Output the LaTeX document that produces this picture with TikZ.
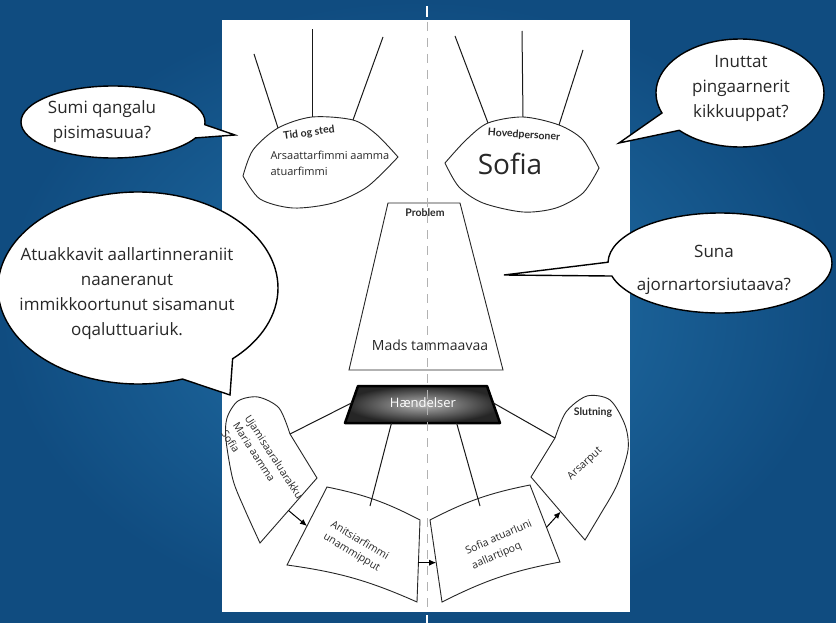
\documentclass[tikz,border=0pt]{standalone}
\usepackage{fontspec}
\setmainfont{Open Sans}
\newfontfamily\tagfont{Lato}
\usepackage{tikz}
\usetikzlibrary{calc,shapes.callouts,arrows.meta}
\definecolor{boarddark}{RGB}{16,76,128}
\definecolor{boardlight}{RGB}{36,116,172}
\definecolor{ink}{RGB}{40,40,40}
\newcommand{\bnd}{8}

\tikzset{
  bubble/.style={ellipse callout, draw=black, line width=1.4pt, fill=white, inner sep=0pt},
  bubtext/.style={align=center, text=ink, font=\fontsize{17}{25}\selectfont},
  shp/.style={draw=black!85, line width=0.9pt, fill=white},
  link/.style={draw=black!90, line width=1pt},
  nextarrow/.style={-{Latex[length=7pt,width=6pt]}, line width=1pt},
  boxtext/.style={text=ink, font=\fontsize{10.5}{14}\selectfont},
  tag/.style={text=ink, font=\tagfont\bfseries\fontsize{10.5}{12}\selectfont}
}

\begin{document}
\begin{tikzpicture}[x=1pt,y=-1pt]
\useasboundingbox (0,0) rectangle (836,623);
\shade[inner color=boardlight, outer color=boarddark] (0,0) rectangle (836,623);
\fill[white] (222,20) rectangle (630,612);
\draw[white, line width=1.6pt] (427,6) -- (427,17) (427,615) -- (427,623);

\draw[shp] plot[smooth] coordinates {(243,176) (253,150) (278,128) (312,117) (353,120) (376,134) (398,157)}
  -- plot[smooth] coordinates {(398,157) (367,187) (333,203) (293,208) (260,199) (243,176)} -- cycle;
\foreach \x/\y/\u/\v in {278/128/254/54, 312/117/312/29, 353/120/383/37}
  \draw[link] (\x,\y) -- (\u,\v);
\node[tag, rotate=8] (tid) at (309,133) {Tid og sted};
\node[boxtext, anchor=west, align=left, font=\fontsize{11}{16}\selectfont] (tidtxt) at (267,163) {Arsaattarfimmi aamma\\atuarfimmi};

\draw[shp] plot[smooth] coordinates {(445,163) (466,140) (488,123) (523,117) (559,125) (583,140) (599,168)}
  -- plot[smooth] coordinates {(599,168) (583,193) (556,208) (523,212) (483,203) (459,187) (445,163)} -- cycle;
\foreach \x/\y/\u/\v in {488/123/455/36, 523/117/522/31, 559/125/583/50}
  \draw[link] (\x,\y) -- (\u,\v);
\node[tag, rotate=-4] (hoved) at (524,135) {Hovedpersoner};
\node[text=ink, font=\fontsize{28}{30}\selectfont] (sofia) at (510,164) {Sofia};

\coordinate (p-nw) at (388,203);
\coordinate (p-ne) at (460,203);
\coordinate (p-se) at (503,370);
\coordinate (p-sw) at (349,370);
\draw[shp, fill=none] (p-nw) -- (p-ne) -- (p-se) -- (p-sw) -- cycle;
\node[tag] (prob) at (425,213) {Problem};
\node[text=ink, font=\fontsize{14}{16}\selectfont] (mads) at (430,345) {Mads tammaavaa};

\coordinate (h-nw) at (358,386);
\coordinate (h-ne) at (487,386);
\coordinate (h-se) at (500,423);
\coordinate (h-sw) at (345,423);
\shadedraw[inner color=black!30, outer color=black!85, draw=black, line width=2.5pt, line join=round] (h-nw) -- (h-ne) -- (h-se) -- (h-sw) -- cycle;
\node[text=white, font=\fontsize{13}{15}\selectfont] (hand) at (423,403) {Hændelser};

\coordinate (u-se) at (317,478);
\coordinate (u-s) at (260,543);
\coordinate (u-n) at (290,434);
\draw[shp] (u-s) -- (u-se) -- plot[smooth] coordinates {(u-n) (279,408) (258,397) (238,401) (227,418) (226,440) (233,480) (245,510) (u-s)} -- cycle;
\node[boxtext, rotate=-57, anchor=north west, align=left] (uja) at (252,409) {Ujamisaaraluarakku\\Maria aamma\\Sofia};

\coordinate (a-tl) at (327,487);
\coordinate (a-tr) at (420,520);
\coordinate (a-br) at (417,602);
\coordinate (a-bl) at (287,565);
\coordinate (a-n) at (370,506);
\draw[shp] (a-tl) to[bend left=\bnd] (a-tr) -- (a-br) to[bend right=\bnd] (a-bl) -- cycle;
\node[boxtext, rotate=-31, align=left] (anit) at (356,547) {Anitsiarfimmi\\unammipput};

\coordinate (f-tl) at (430,520);
\coordinate (f-tr) at (530,485);
\coordinate (f-br) at (560,562);
\coordinate (f-bl) at (442,602);
\coordinate (f-n) at (480,506);
\draw[shp] (f-tl) to[bend left=\bnd] (f-tr) -- (f-br) to[bend right=\bnd] (f-bl) -- cycle;
\node[boxtext, rotate=23.5, align=left, font=\fontsize{10.5}{16}\selectfont] (fase) at (502,545) {Sofia atuarluni\\aallartipoq};

\coordinate (s-w) at (531,477);
\coordinate (s-nw) at (555,438);
\coordinate (s-s) at (585,540);
\draw[shp] (s-s) -- (s-w) -- plot[smooth] coordinates {(s-nw) (566,412) (587,396) (610,400) (625,425) (628,450) (617,485) (600,515) (s-s)} -- cycle;
\node[tag] (slut) at (593,413) {Slutning};
\node[boxtext, rotate=43] (arsar) at (585,464) {Arsarput};

\coordinate (h-w) at ($(h-nw)!0.45!(h-sw)$);
\coordinate (h-e) at ($(h-ne)!0.45!(h-se)$);
\coordinate (h-s1) at ($(h-sw)!0.3!(h-se)$);
\coordinate (h-s2) at ($(h-sw)!0.72!(h-se)$);
\draw[link] (h-w) -- (u-n);
\draw[link] (h-s1) -- (a-n);
\draw[link] (h-s2) -- (f-n);
\draw[link] (h-e) -- (s-nw);

\coordinate (u-out) at ($(u-se)!0.5!(u-s)$);
\coordinate (a-in) at ($(a-bl)!0.5!(a-tl)$);
\coordinate (a-out) at ($(a-tr)!0.52!(a-br)$);
\coordinate (f-in) at ($(f-tl)!0.52!(f-bl)$);
\coordinate (f-out) at ($(f-tr)!0.55!(f-br)$);
\coordinate (s-in) at ($(s-w)!0.55!(s-s)$);
\draw[nextarrow] (u-out) -- (a-in);
\draw[nextarrow] (a-out) -- (f-in);
\draw[nextarrow] (f-out) -- (s-in);

\coordinate (q1-tip) at (235,135);
\node[bubble, minimum width=184pt, minimum height=72pt, callout absolute pointer={(q1-tip)}, callout pointer arc=22] (q1) at (113,122) {};
\node[bubtext] (q1txt) at (102,122) {Sumi qangalu\\pisimasuua?};

\coordinate (q2-tip) at (619,143);
\node[bubble, minimum width=168pt, minimum height=108pt, callout absolute pointer={(q2-tip)}, callout pointer arc=22] (q2) at (740,93) {};
\node[bubtext] (q2txt) at (741,88) {Inuttat\\pingaarnerit\\kikkuuppat?};

\coordinate (q3-tip) at (504,275);
\node[bubble, minimum width=224pt, minimum height=100pt, callout absolute pointer={(q3-tip)}, callout pointer arc=16] (q3) at (720,263) {};
\node[bubtext] (q3txt) at (714,270) {Suna\\[8pt]ajornartorsiutaava?};

\coordinate (q4-tip) at (230,395);
\node[bubble, minimum width=280pt, minimum height=192pt, callout absolute pointer={(q4-tip)}, callout pointer arc=24] (q4) at (138,288) {};
\node[bubtext] (q4txt) at (127,294) {Atuakkavit aallartinneraniit\\naaneranut\\immikkoortunut sisamanut\\oqaluttuariuk.};

\draw[black!30, dash pattern=on 9pt off 7pt, line width=0.8pt] (427,22) -- (427,612);
\end{tikzpicture}
\end{document}
